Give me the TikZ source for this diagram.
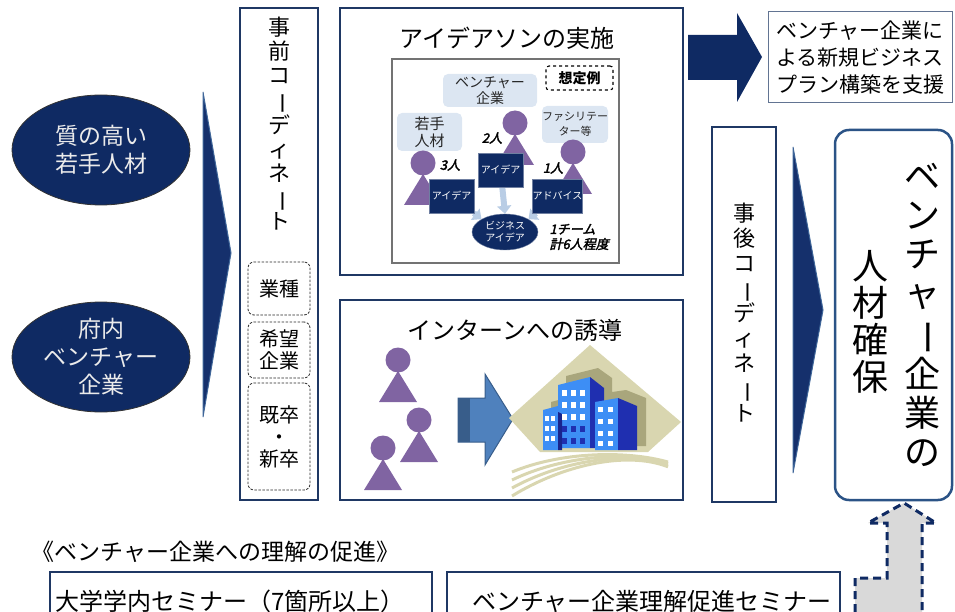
\documentclass[tikz,border=0pt]{standalone}
\usepackage{fontspec}
\setmainfont{Noto Sans CJK JP}
\newfontfamily\countfont{Noto Sans CJK JP}[FakeSlant=0.22,FakeBold=2.5]
\usepackage{graphicx}
\usetikzlibrary{shapes.geometric,arrows.meta,backgrounds}

\definecolor{navy}{HTML}{0F2A63}
\definecolor{panelnavy}{HTML}{1F3864}
\definecolor{wedgefill}{HTML}{15306C}
\definecolor{wedgeline}{HTML}{3F6699}
\definecolor{goalblue}{HTML}{2B5386}
\definecolor{lilac}{HTML}{8064A2}
\definecolor{paleblue}{HTML}{DCE6F2}
\definecolor{arrowblue}{HTML}{B9CDE5}
\definecolor{steel}{HTML}{4F81BD}
\definecolor{steeldark}{HTML}{385D8A}
\definecolor{sand}{HTML}{D9D6B0}
\definecolor{sanddark}{HTML}{A9A67C}
\definecolor{bldlight}{HTML}{3D8EF5}
\definecolor{bldside}{HTML}{1F2FB0}
\definecolor{liftgray}{HTML}{D9D9D9}

% long vowel mark for vertical writing
\newcommand{\tatebar}{\rotatebox[origin=c]{-90}{ー}}

\tikzset{person/.pic={
  \fill[lilac] (0,0) circle (12.5pt);
  \fill[lilac] (0,11) -- (-19,42) -- (19,42) -- cycle;}}

\begin{document}
\begin{tikzpicture}[x=1pt,y=-1pt,>=Stealth,font=\fontsize{22}{25}\selectfont]
\tikzstyle{panelbox}=[draw=panelnavy,line width=1.2pt,inner sep=0pt]
\tikzstyle{navyoval}=[ellipse,fill=navy,draw=black!80,line width=0.8pt,minimum width=178,minimum height=110,text=white!92!black,align=center,inner sep=0pt,font=\fontsize{23}{28}\selectfont]
\tikzstyle{wedgearrow}=[fill=wedgefill,draw=wedgeline,line width=1pt]
\tikzstyle{dashtag}=[draw=black!85,line width=0.8pt,dashed,dash pattern=on 2.5pt off 1.5pt,rounded corners=6pt,minimum width=62,align=center,inner sep=0pt,font=\fontsize{20}{22}\selectfont]
\tikzstyle{bluecallout}=[fill=paleblue,rounded corners=5pt,align=center,inner sep=0pt,text=black!85,font=\fontsize{14}{16}\selectfont]
\tikzstyle{navychip}=[fill=navy,draw=navy!60,minimum width=45,minimum height=34,text=white,inner sep=0pt,font=\fontsize{10}{12}\selectfont]
\tikzstyle{headcount}=[font=\countfont\fontsize{13}{15}\selectfont]
\tikzstyle{fatarrow}=[draw=arrowblue,line width=6pt,-{Triangle[length=8pt,width=14pt]}]

\useasboundingbox (0,0) rectangle (955,612);
\clip (0,0) rectangle (955,612);

% who takes part
\node[navyoval] (talent) at (101,150) {質の高い\\若手人材};
\node[navyoval] (venture) at (101,357) {府内\\ベンチャー\\企業};
\draw[wedgearrow] (203,92) -- (231,253) -- (203,417) -- cycle;

% coordination before
\node[panelbox,minimum width=78,minimum height=492] (pre) at (279,254) {};
\node[align=center,font=\fontsize{22}{24}\selectfont] (pretext) at (279,124) {事\\前\\コ\\\tatebar\\デ\\ィ\\ネ\\\tatebar\\ト};
\node[dashtag,minimum height=53] (kind) at (279,288.5) {業種};
\node[dashtag,minimum height=56] (wish) at (279,350) {希望\\企業};
\node[dashtag,minimum height=107] (grad) at (279,436.5) {既卒\\・\\新卒};

% ideathon
\node[panelbox,minimum width=343,minimum height=267] (ideathon) at (511.5,141.5) {};
\node[font=\fontsize{24}{26}\selectfont] (ideatitle) at (507,38) {アイデアソンの実施};
\node[draw=black!55,line width=1.2pt,minimum width=227,minimum height=204] (sample) at (505.5,161) {};
\node[draw,dashed,line width=1.1pt,rounded corners=3pt,minimum width=67,minimum height=24,inner sep=0pt,font=\bfseries\fontsize{14}{16}\selectfont] (assume) at (579.5,78) {想定例};
\node[bluecallout,minimum width=94,minimum height=33] (vcall) at (490,90.5) {ベンチャー\\企業};
\node[bluecallout,minimum width=65,minimum height=38,font=\fontsize{15}{17}\selectfont] (ycall) at (429.5,132) {若手\\人材};
\node[bluecallout,minimum width=66,minimum height=37,font=\fontsize{11}{15}\selectfont] (fcall) at (575,124.5) {ファシリテー\\ター等};
\pic at (423,163) {person};
\pic at (515,123) {person};
\pic at (573,152) {person};
\node[navychip] (idea1) at (451.5,196) {アイデア};
\node[navychip] (idea2) at (500.5,170) {アイデア};
\node[navychip] (advice) at (557.5,196) {アドバイス};
\node[navychip,ellipse,minimum width=66,minimum height=36,align=center] (biz) at (505,232) {ビジネス\\アイデア};
\node[headcount] (n3) at (450,165) {3人};
\node[headcount] (n2) at (492,138) {2人};
\node[headcount] (n1) at (553,168) {1人};
\node[headcount,align=left,anchor=west] (team) at (546,237) {1チーム\\計6人程度};
\begin{pgfonlayer}{background}
\draw[fatarrow] (idea1) -- (biz.north west);
\draw[fatarrow] (idea2) -- (biz.north);
\draw[fatarrow] (advice) -- (biz.north east);
\end{pgfonlayer}

% internship
\node[panelbox,minimum width=343,minimum height=200] (intern) at (511.5,400) {};
\node[font=\fontsize{24}{26}\selectfont] (interntitle) at (515,330) {インターンへの誘導};
\pic at (398,360) {person};
\pic at (419,420) {person};
\pic at (383,448) {person};
\fill[steel] (458,398) -- (485,398) -- (485,374) -- (513,419) -- (485,465) -- (485,442) -- (458,442) -- cycle;
\fill[steeldark] (458,398) rectangle (470,442);
\draw[steeldark,line width=1pt] (458,398) -- (485,398) -- (485,374) -- (513,419) -- (485,465) -- (485,442) -- (458,442) -- cycle;
% office buildings
\fill[sand] (509,418) -- (590,345) -- (681,422) -- (648,452) -- (540,452) -- cycle;
\fill[sanddark] (551,402) -- (566,398) -- (566,376) -- (598,368) -- (612,378) -- (612,392) -- (626,390) -- (646,398) -- (646,446) -- (551,446) -- cycle;
\fill[bldlight] (558,385) -- (590,377) -- (590,448) -- (558,448) -- cycle;
\fill[bldside] (590,377) -- (604,388) -- (604,448) -- (590,448) -- cycle;
\fill[bldlight] (595,402) -- (618,398) -- (618,450) -- (595,450) -- cycle;
\fill[bldside] (618,398) -- (637,406) -- (637,450) -- (618,450) -- cycle;
\fill[bldlight] (543,410) -- (558,406) -- (558,450) -- (543,450) -- cycle;
\fill[bldside!80!black] (558,412) -- (562,414) -- (562,450) -- (558,450) -- cycle;
\foreach \x in {562,571,580}
  \foreach \y in {390,402,414,426,438}
    \fill[white] (\x,\y) rectangle ++(5,6);
\foreach \x in {598,608}
  \foreach \y in {407,419,431,441}
    \fill[white] (\x,\y) rectangle ++(5,5);
\foreach \x in {545,551}
  \foreach \y in {416,426,436}
    \fill[white] (\x,\y) rectangle ++(4,5);
\foreach \y in {426,438}
  \foreach \x in {562,571,580}
    \fill[bldside] (\x,\y) rectangle ++(5,6);
\foreach \d in {0,8,16,24}
  \draw[sand,line width=3pt] (512,{472+\d}) .. controls (560,{452+\d*0.6}) and (625,450) .. (668,{462+\d*0.2});

% outcome of the ideathon
\fill[navy] (688,35) -- (737,35) -- (737,13) -- (762,57) -- (737,102) -- (737,80) -- (688,80) -- cycle;
\node[draw=panelnavy!70,line width=1pt,minimum width=184,minimum height=91,align=left,inner sep=0pt,font=\fontsize{21}{27}\selectfont] (support) at (860,57.5) {ベンチャー企業に\\よる新規ビジネス\\プラン構築を支援};

% coordination after
\node[panelbox,minimum width=64,minimum height=375] (post) at (744,314.5) {};
\node[align=center,font=\fontsize{22}{25}\selectfont] (posttext) at (744,313) {事\\後\\コ\\\tatebar\\デ\\ィ\\ネ\\\tatebar\\ト};
\draw[wedgearrow] (793,147) -- (823,310) -- (793,473) -- cycle;

% goal
\node[draw=goalblue,line width=2.5pt,rounded corners=14pt,minimum width=117,minimum height=370] (goal) at (893.5,315) {};
\node[align=center,font=\fontsize{36}{39}\selectfont] (goalright) at (922,315) {ベ\\ン\\チ\\ャ\\\tatebar\\企\\業\\の};
\node[align=center,font=\fontsize{36}{37}\selectfont] (goalleft) at (870,322) {人\\材\\確\\保};

% understanding of ventures
\node[anchor=west,font=\fontsize{23}{26}\selectfont] (promote) at (28,552) {《ベンチャー企業への理解の促進》};
\node[panelbox,minimum width=382,minimum height=60] (campus) at (241,602) {};
\node[anchor=west,font=\fontsize{24}{26}\selectfont] (campustext) at (52,601) {大学学内セミナー（7箇所以上）};
\node[panelbox,minimum width=393,minimum height=60] (seminar) at (643.5,602) {};
\node[font=\fontsize{24}{26}\selectfont] (seminartext) at (652,601) {ベンチャー企業理解促進セミナー};
\draw[fill=liftgray,draw=navy,line width=3pt,dashed,dash pattern=on 8pt off 5pt] (855,625) -- (855,578) -- (887,578) -- (887,523) -- (868,523) -- (904,503) -- (936,523) -- (922,523) -- (922,625) -- cycle;
\end{tikzpicture}
\end{document}
